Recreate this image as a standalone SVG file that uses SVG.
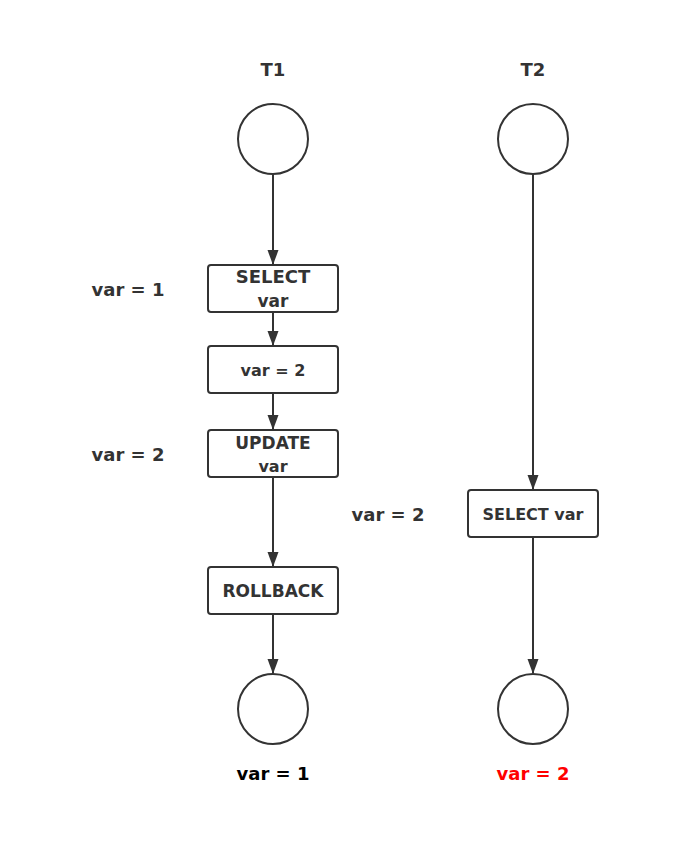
<svg xmlns="http://www.w3.org/2000/svg" width="675" height="855" viewBox="0 0 675 855">
<style>
text{font-family:"DejaVu Sans","Noto Sans",sans-serif;font-weight:bold;fill:#333;text-anchor:middle}
.lbl{font-size:18px}
.bx{font-size:17px}
.sm{font-size:16px}
.n{fill:#fff;stroke:#333;stroke-width:2}
.c{fill:none;stroke:#333;stroke-width:2}
</style>
<defs>
<marker id="ah" markerWidth="16" markerHeight="12" refX="14" refY="5.5" orient="auto" markerUnits="userSpaceOnUse">
<path d="M0,0 L15,5.5 L0,11 Z" fill="#333"/>
</marker>
</defs>
<rect width="675" height="855" fill="#fff"/>
<g id="connectors">
<line class="c" x1="273" y1="174" x2="273" y2="264" marker-end="url(#ah)"/>
<line class="c" x1="273" y1="312" x2="273" y2="345" marker-end="url(#ah)"/>
<line class="c" x1="273" y1="393" x2="273" y2="429" marker-end="url(#ah)"/>
<line class="c" x1="273" y1="477" x2="273" y2="566" marker-end="url(#ah)"/>
<line class="c" x1="273" y1="614" x2="273" y2="673" marker-end="url(#ah)"/>
<line class="c" x1="533" y1="174" x2="533" y2="489" marker-end="url(#ah)"/>
<line class="c" x1="533" y1="537" x2="533" y2="673" marker-end="url(#ah)"/>
</g>
<g id="t1-title"><text class="lbl" x="273" y="76">T1</text></g>
<g id="t2-title"><text class="lbl" x="533" y="76">T2</text></g>
<g id="t1-start"><circle class="n" cx="273" cy="139" r="35"/></g>
<g id="t2-start"><circle class="n" cx="533" cy="139" r="35"/></g>
<g id="t1-select"><rect class="n" x="208" y="265" width="130" height="47" rx="3"/><text class="lbl" x="273" y="283">SELECT</text><text class="bx" x="273" y="307">var</text></g>
<g id="t1-set"><rect class="n" x="208" y="346" width="130" height="47" rx="3"/><text class="sm" x="273" y="376">var = 2</text></g>
<g id="t1-update"><rect class="n" x="208" y="430" width="130" height="47" rx="3"/><text class="bx" x="273" y="449">UPDATE</text><text class="sm" x="273" y="472">var</text></g>
<g id="t1-rollback"><rect class="n" x="208" y="567" width="130" height="47" rx="3"/><text class="bx" x="273" y="597">ROLLBACK</text></g>
<g id="t2-select"><rect class="n" x="468" y="490" width="130" height="47" rx="3"/><text class="sm" x="533" y="520">SELECT var</text></g>
<g id="t1-end"><circle class="n" cx="273" cy="709" r="35"/></g>
<g id="t2-end"><circle class="n" cx="533" cy="709" r="35"/></g>
<g id="labels">
<text class="lbl" x="128" y="296">var = 1</text>
<text class="lbl" x="128" y="461">var = 2</text>
<text class="lbl" x="388" y="521">var = 2</text>
<text class="lbl" x="273" y="780" style="fill:#000">var = 1</text>
<text class="lbl" x="533" y="780" style="fill:#f00">var = 2</text>
</g>
</svg>
